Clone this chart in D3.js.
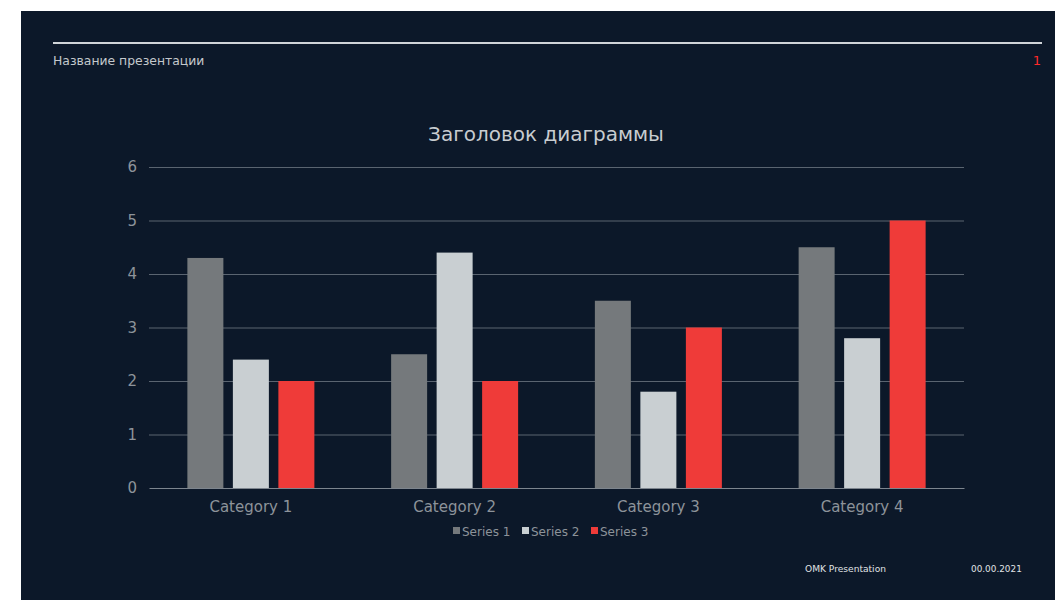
<!DOCTYPE html>
<html><head><meta charset="utf-8">
<script src="https://cdn.jsdelivr.net/npm/d3@7"></script>
<style>html,body{margin:0;padding:0;background:#fff;}svg{display:block;font-family:"DejaVu Sans",Verdana,sans-serif;}</style>
</head><body>
<script>
const categories = ["Category 1","Category 2","Category 3","Category 4"];
const seriesNames = ["Series 1","Series 2","Series 3"];
const series1 = [4.3, 2.5, 3.5, 4.5];
const series2 = [2.4, 4.4, 1.8, 2.8];
const series3 = [2, 2, 3, 5];
const yTicks = [0,1,2,3,4,5,6];
const colors = ["#75797c","#c9cfd2","#ef3b39"];

(function(){
const W = 1055, H = 600;
const svg = d3.select("body").append("svg").attr("width", W).attr("height", H);
svg.append("rect").attr("x",21).attr("y",11).attr("width",W-21).attr("height",H-11).attr("fill","#0c1829");
svg.append("rect").attr("x",53).attr("y",42).attr("width",989).attr("height",2).attr("fill","#d0d4d8");
svg.append("text").attr("x",53).attr("y",65).attr("font-size",12.4).attr("fill","#c4c8cc").text("Название презентации");
svg.append("text").attr("x",1041).attr("y",65).attr("text-anchor","end").attr("font-size",13).attr("fill","#ff2a2a").text("1");
svg.append("text").attr("x",805).attr("y",572).attr("font-size",9.1).attr("fill","#e0e3e6").text("OMK Presentation");
svg.append("text").attr("x",971).attr("y",572).attr("font-size",8.9).attr("fill","#e0e3e6").text("00.00.2021");

svg.append("text").attr("x",546).attr("y",141).attr("text-anchor","middle").attr("font-size",20).attr("fill","#c8ccd0").text("Заголовок диаграммы");

const pL = 149, pR = 964, pT = 167, pB = 488;
const x = d3.scaleBand().domain(categories).range([pL,pR]).paddingInner(0).paddingOuter(0);
const y = d3.scaleLinear().domain([0,6]).range([pB,pT]);

const grid = svg.append("g");
grid.selectAll("line").data(yTicks.filter(d=>d>0)).join("line")
  .attr("x1",pL).attr("x2",pR).attr("y1",d=>y(d)+0.5).attr("y2",d=>y(d)+0.5)
  .attr("stroke","#5a6470").attr("stroke-width",1);

const yAxis = svg.append("g").attr("transform",`translate(${pL},0)`)
  .call(d3.axisLeft(y).tickValues(yTicks).tickSize(0).tickPadding(12).tickFormat(d3.format("d")));
yAxis.select(".domain").remove();
yAxis.selectAll("text").attr("font-size",15).attr("fill","#8d939a").attr("font-family","DejaVu Sans, Verdana, sans-serif");

const data = [series1, series2, series3];
const barW = 36, gap = 9.5;
const groupW = 3*barW + 2*gap;
const xs = d3.scaleBand().domain(seriesNames).range([0, groupW]).paddingInner(gap/(barW+gap)).paddingOuter(0);
data.forEach((vals, si) => {
  svg.append("g").selectAll("rect").data(vals).join("rect")
    .attr("x",(d,i)=>x(categories[i]) + x.bandwidth()/2 - groupW/2 + xs(seriesNames[si]))
    .attr("y",d=>y(d)).attr("width",xs.bandwidth()).attr("height",d=>y(0)-y(d))
    .attr("fill",colors[si]);
});

const xAxis = svg.append("g").attr("transform",`translate(0,${pB})`)
  .call(d3.axisBottom(x).tickSize(0).tickPadding(13));
xAxis.select(".domain").attr("stroke","#7d858e").attr("stroke-width",1);
xAxis.selectAll("text").attr("font-size",15).attr("fill","#8d939a").attr("font-family","DejaVu Sans, Verdana, sans-serif");

const legX = [453, 522, 591];
const leg = svg.append("g");
seriesNames.forEach((s,i)=>{
  leg.append("rect").attr("x",legX[i]).attr("y",527).attr("width",7).attr("height",7).attr("fill",colors[i]);
  leg.append("text").attr("x",legX[i]+9).attr("y",535.5).attr("font-size",12).attr("fill","#8d939a").text(s);
});
})();
</script>
</body></html>
